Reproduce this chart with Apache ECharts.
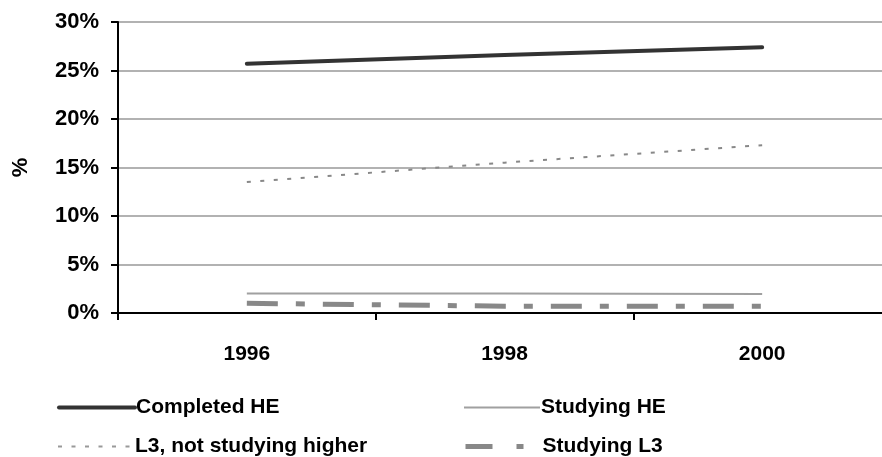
<!DOCTYPE html>
<html><head><meta charset="utf-8">
<script src="https://cdn.jsdelivr.net/npm/echarts@6/dist/echarts.min.js"></script>
<style>html,body{margin:0;padding:0;background:#fff;overflow:hidden;width:882px;height:457px}#c{width:900px;height:457px}</style>
</head><body><div id="c"></div>
<script>
const years = ['1996', '1998', '2000'];
const completedHE = [25.7, 26.6, 27.4];
const studyingHE = [2.0, 2.0, 1.95];
const l3NotStudying = [13.5, 15.5, 17.3];
const studyingL3 = [1.0, 0.7, 0.7];
const yTicks = [0, 5, 10, 15, 20, 25, 30];

const F = 'Liberation Sans, Arial, sans-serif';
const chart = echarts.init(document.getElementById('c'), null, {renderer: 'canvas'});
const names = ['Completed HE', 'Studying HE', 'L3, not studying higher', 'Studying L3'];
const styles = [
  {color: '#333', width: 4, type: 'solid'},
  {color: '#a0a0a0', width: 2, type: 'solid'},
  {color: '#888', width: 2, type: [4, 9.5]},
  {color: '#888', width: 5, type: [31, 18, 9, 18]}
];
const legendLine = [
  {color: '#333', width: 4, type: 'solid'},
  {color: '#a0a0a0', width: 2, type: 'solid'},
  {color: '#999', width: 2, type: [4, 9.5]},
  {color: '#888', width: 5, type: [27, 24, 7, 100]}
];
const legPos = [[57, 397], [463, 397], [57, 436], [463, 436]];
chart.setOption({
  animation: false,
  backgroundColor: '#fff',
  grid: {left: 118, top: 22, width: 773, height: 291, containLabel: false},
  legend: names.map((n, i) => ({
    data: [{name: n, lineStyle: legendLine[i], itemStyle: {opacity: 0}}],
    left: legPos[i][0], top: legPos[i][1], itemWidth: 76, itemHeight: 22, itemGap: 2,
    textStyle: {fontFamily: F, fontWeight: 'bold', fontSize: 21, color: '#000', padding: [0,0,0,-4]},
    padding: 0
  })),
  xAxis: {
    type: 'category', data: years, boundaryGap: true,
    axisLine: {lineStyle: {color: '#000', width: 2}},
    axisTick: {show: true, length: 7, lineStyle: {color: '#000', width: 2}},
    axisLabel: {fontFamily: F, fontWeight: 'bold', fontSize: 21, color: '#000', margin: 31},
    splitLine: {show: false}
  },
  yAxis: {
    type: 'value', min: 0, max: 30, interval: 5,
    name: '%', nameLocation: 'middle', nameGap: 86, nameRotate: 90,
    nameTextStyle: {fontFamily: F, fontWeight: 'bold', fontSize: 22, color: '#000'},
    axisLine: {show: true, lineStyle: {color: '#000', width: 2}},
    axisTick: {show: true, length: 7, lineStyle: {color: '#000', width: 2}},
    axisLabel: {fontFamily: F, fontWeight: 'bold', fontSize: 22, color: '#000', margin: 19,
      formatter: v => yTicks.includes(v) ? v + '%' : ''},
    splitLine: {show: true, lineStyle: {color: '#999', width: 1.5}}
  },
  series: names.map((n, i) => ({
    name: n, type: 'line', symbol: 'none', z: 5 - i,
    data: [completedHE, studyingHE, l3NotStudying, studyingL3][i],
    lineStyle: Object.assign({cap: i === 0 ? 'round' : 'butt'}, styles[i]),
    itemStyle: {color: styles[i].color}
  }))
});
</script></body></html>
